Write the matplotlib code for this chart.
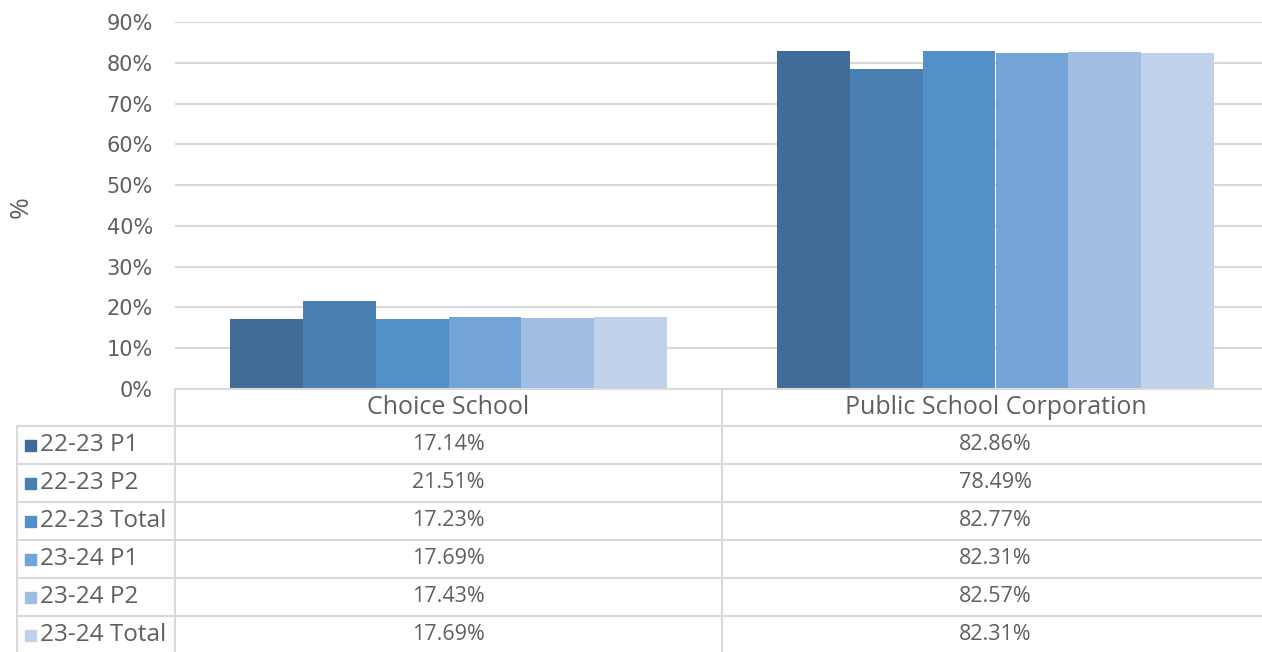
import matplotlib
matplotlib.use("Agg")
import matplotlib.pyplot as plt
import numpy as np
from matplotlib.lines import Line2D
from matplotlib.patches import Rectangle

categories = ["Choice School", "Public School Corporation"]
series_names = ["22-23 P1", "22-23 P2", "22-23 Total", "23-24 P1", "23-24 P2", "23-24 Total"]
choice_vals = [17.14, 21.51, 17.23, 17.69, 17.43, 17.69]
public_vals = [82.86, 78.49, 82.77, 82.31, 82.57, 82.31]
colors = ["#416C99", "#4A7FB1", "#5490C8", "#74A3D5", "#A0BEE2", "#C0D1EA"]
yticks = [0, 10, 20, 30, 40, 50, 60, 70, 80, 90]

W, H = 1262, 652
plt.rcParams['font.family'] = ['Open Sans', 'DejaVu Sans']
TXT = "#5f5f5f"
GRID = "#D9D9D9"

fig = plt.figure(figsize=(W / 100, H / 100), dpi=100)
left_px, right_px, top_px, bottom_px = 175, 1269, 22, 389
ax = fig.add_axes([left_px / W, 1 - bottom_px / H, (right_px - left_px) / W, (bottom_px - top_px) / H])

x = np.arange(len(categories))
group_w = 0.80
bw = group_w / len(series_names)
for i, name in enumerate(series_names):
    vals = [choice_vals[i], public_vals[i]]
    ax.bar(x - group_w / 2 + bw * (i + 0.5), vals, width=bw, color=colors[i], zorder=3)

ax.set_xlim(-0.5, len(categories) - 0.5)
ax.set_ylim(0, 90)
ax.set_yticks(yticks)
ax.set_yticklabels([f"{v}%" for v in yticks], fontsize=15, color=TXT, family='DejaVu Sans')
ax.tick_params(axis='y', length=0, pad=16)
ax.set_xticks([])
ax.grid(axis='y', color=GRID, linewidth=1.5, zorder=0)
for s in ax.spines.values():
    s.set_visible(False)
fig.text(21 / W, 1 - 207 / H, "%", rotation=90, fontsize=19, color=TXT, ha='center', va='center')

# Data table drawn in pixel coordinates on an overlay
ov = fig.add_axes([0, 0, 1, 1], zorder=5)
ov.set_xlim(0, W)
ov.set_ylim(H, 0)
ov.axis('off')
ov.patch.set_alpha(0)

row_edges = [389, 426, 464, 502, 540, 578, 616, 654]
col_edges = [17, left_px, (left_px + right_px) / 2, right_px]
lw = 1.5
for k, y in enumerate(row_edges[:-1]):
    x0 = left_px if k == 0 else col_edges[0]
    ov.add_line(Line2D([x0, W], [y, y], color=GRID, lw=lw))
ov.add_line(Line2D([col_edges[0]] * 2, [row_edges[1], H], color=GRID, lw=lw))
ov.add_line(Line2D([col_edges[1]] * 2, [row_edges[0], H], color=GRID, lw=lw))
ov.add_line(Line2D([col_edges[2]] * 2, [row_edges[0], H], color=GRID, lw=lw))

col_centers = [(col_edges[1] + col_edges[2]) / 2, (col_edges[2] + col_edges[3]) / 2]
hy = (row_edges[0] + row_edges[1]) / 2
for c, cat in zip(col_centers, categories):
    ov.text(c, hy, cat, fontsize=18, color=TXT, ha='center', va='center')

for i, name in enumerate(series_names):
    yc = (row_edges[i + 1] + row_edges[i + 2]) / 2
    ov.add_patch(Rectangle((25, yc - 5), 11, 11, color=colors[i]))
    ov.text(40, yc, name, fontsize=17.5, color=TXT, ha='left', va='center')
    for c, v in zip(col_centers, [choice_vals[i], public_vals[i]]):
        ov.text(c, yc, f"{v:.2f}%", fontsize=15.5, color=TXT, ha='center', va='center')

fig.savefig("out.png", dpi=100)
